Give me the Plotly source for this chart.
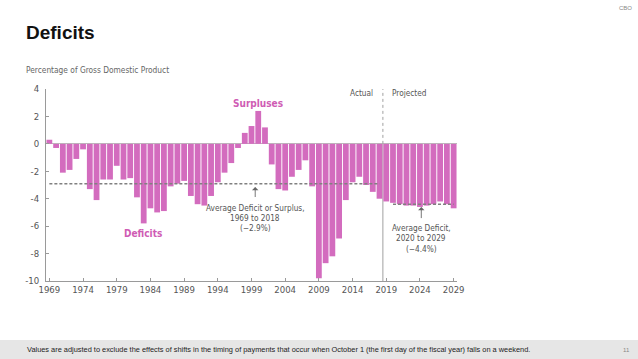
import plotly.graph_objects as go

# ---- data ----
years = list(range(1969, 2030))
deficits = [
    0.3, -0.3, -2.1, -1.9, -1.1, -0.4, -3.3, -4.1, -2.6, -2.6,   # 1969-1978
    -1.6, -2.6, -2.5, -3.9, -5.8, -4.7, -5.0, -4.9, -3.1, -2.9,  # 1979-1988
    -2.7, -3.8, -4.4, -4.5, -3.8, -2.8, -2.1, -1.4, -0.3, 0.8,   # 1989-1998
    1.3, 2.4, 1.2, -1.5, -3.3, -3.4, -2.4, -1.9, -1.2, -3.1,     # 1999-2008
    -9.8, -8.7, -8.2, -6.9, -4.1, -2.8, -2.4, -3.0, -3.5, -4.0,  # 2009-2018
    -4.2, -4.3, -4.4, -4.5, -4.5, -4.6, -4.5, -4.4, -4.2, -4.4,  # 2019-2028
    -4.7,                                                       # 2029
]
avg_hist_years = [1969, 2018]
avg_hist_value = -2.9
avg_proj_years = [2020, 2029]
avg_proj_value = -4.4
y_ticks = [4, 2, 0, -2, -4, -6, -8, -10]
x_ticks = [1969, 1974, 1979, 1984, 1989, 1994, 1999, 2004, 2009, 2014, 2019, 2024, 2029]

PINK = "#d36cbe"
PINK_TXT = "#cf5cb4"
GRAY = "#555555"
AXIS = "#9a9a9a"
FONT = "DejaVu Sans Condensed, Liberation Sans, sans-serif"
ARIAL = "Liberation Sans, Arial, sans-serif"

W, H = 638, 359
L, R, T, B = 46, 181, 89, 78
PW, PH = W - L - R, H - T - B


def px(x):
    return (x - L) / PW


def py(y):
    return (H - B - y) / PH


fig = go.Figure()
fig.add_trace(go.Bar(x=years, y=deficits, marker=dict(color=PINK, line=dict(width=0)),
                     hoverinfo="x+y", showlegend=False))
fig.add_trace(go.Scatter(x=avg_hist_years, y=[avg_hist_value] * 2, mode="lines",
                         line=dict(color="#808080", width=1.5, dash="3px,2px"), showlegend=False))
fig.add_trace(go.Scatter(x=avg_proj_years, y=[avg_proj_value] * 2, mode="lines",
                         line=dict(color="#808080", width=1.5, dash="3px,2px"), showlegend=False))

shapes = [
    dict(type="line", xref="x", yref="y", x0=2018.5, x1=2018.5, y0=0, y1=4.2,
         line=dict(color="#a0a0a0", width=1, dash="dot"), layer="above"),
    dict(type="line", xref="x", yref="y", x0=2018.5, x1=2018.5, y0=-10, y1=0,
         line=dict(color="#a0a0a0", width=1), layer="below"),
    dict(type="rect", xref="paper", yref="paper", x0=px(0), x1=px(W), y0=py(359), y1=py(340),
         fillcolor="#e6e6e6", line=dict(width=0), layer="below"),
]

ann = []


def text(x, y, s, size=8.2, color=GRAY, xanchor="center", xref="x", yref="y", bold=False, family=FONT):
    ann.append(dict(x=x, y=y, xref=xref, yref=yref, text=s, showarrow=False, xanchor=xanchor,
                    yanchor="middle", font=dict(size=size, color=color, family=family,
                                                weight="bold" if bold else "normal")))


def yv(pix):
    return -(pix - 144.0) / 13.67


# chart annotations
text(1999.9, yv(104), "Surpluses", size=10, color=PINK_TXT, bold=True)
text(1982.9, yv(233), "Deficits", size=10, color=PINK_TXT, bold=True)
for i, s in enumerate(["Average Deficit or Surplus,", "1969 to 2018", "(\u22122.9%)"]):
    text(1999.55, yv(207.5 + 10.2 * i), s)
for i, s in enumerate(["Average Deficit,", "2020 to 2029", "(\u22124.4%)"]):
    text(2024.2, yv(227.5 + 10.6 * i), s)
text(2017.3, yv(93), "Actual", xanchor="right")
text(2019.6, yv(93), "Projected", xanchor="left")

# arrows
for xa, y_head, y_tail in [(1999.55, yv(187), yv(198.5)), (2024.2, yv(207), yv(219.5))]:
    ann.append(dict(x=xa, y=y_head, ax=xa, ay=y_tail, xref="x", yref="y", axref="x", ayref="y",
                    text="", showarrow=True, arrowhead=1, arrowsize=1.2, arrowwidth=0.9,
                    arrowcolor="#666666"))

# page text
text(px(24), py(33), "Deficits", size=19, color="#111111", xanchor="left", xref="paper",
     yref="paper", bold=True, family=ARIAL)
text(px(24), py(70), "Percentage of Gross Domestic Product", size=8.3, color="#666666",
     xanchor="left", xref="paper", yref="paper")
text(px(634), py(8), "CBO", size=6, color="#888888", xanchor="right", xref="paper", yref="paper",
     family=ARIAL)
text(px(25), py(349.5),
     "Values are adjusted to exclude the effects of shifts in the timing of payments that occur "
     "when October 1 (the first day of the fiscal year) falls on a weekend.",
     size=7.4, color="#222222", xanchor="left", xref="paper", yref="paper", family=ARIAL)
text(px(632), py(349.5), "11", size=6, color="#888888", xanchor="right", xref="paper",
     yref="paper", family=ARIAL)

fig.update_layout(
    width=W, height=H, autosize=False,
    margin=dict(l=L, r=R, t=T, b=B, pad=0),
    paper_bgcolor="white", plot_bgcolor="white",
    bargap=0.14,
    font=dict(family=FONT, size=9.5, color=GRAY),
    shapes=shapes, annotations=ann,
    xaxis=dict(range=[1968.5, 2029.5], tickmode="array", tickvals=x_ticks,
               ticktext=[str(v) for v in x_ticks], ticks="inside", ticklen=3, tickcolor=AXIS,
               showline=True, linecolor=AXIS, linewidth=1, showgrid=False, zeroline=False,
               tickfont=dict(size=9.5, color=GRAY, family=FONT)),
    yaxis=dict(range=[-10, 4], tickmode="array", tickvals=y_ticks,
               ticktext=[str(v) if v >= 0 else "-" + str(-v) for v in y_ticks],
               ticks="inside", ticklen=3, tickcolor=AXIS, showline=True, linecolor=AXIS,
               linewidth=1, showgrid=False, zeroline=True, zerolinecolor="#bbbbbb",
               zerolinewidth=1, ticklabelstandoff=4,
               tickfont=dict(size=9.5, color=GRAY, family=FONT)),
)

fig.write_html("out.html", config={"displayModeBar": False},
               post_script="document.body.style.margin='0';")
